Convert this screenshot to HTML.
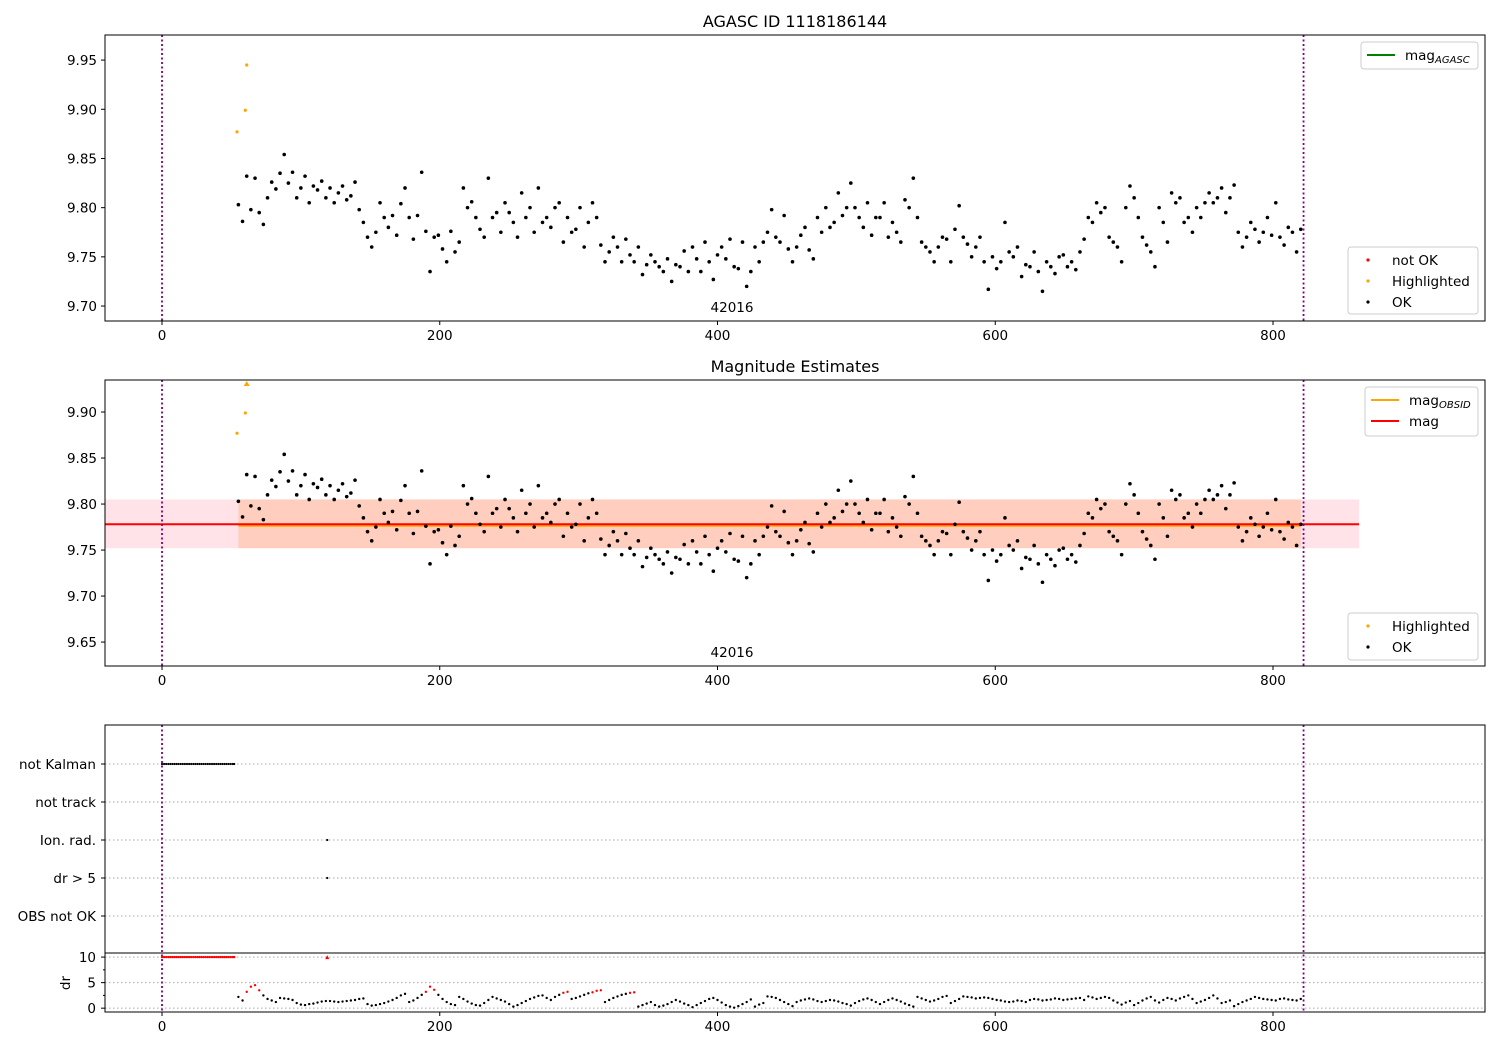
<!DOCTYPE html>
<html><head><meta charset="utf-8"><style>
body{margin:0;background:#fff;}
svg{font-family:"DejaVu Sans","Liberation Sans",sans-serif;}
</style></head><body>
<svg id="c" width="1500" height="1050" viewBox="0 0 1500 1050" xmlns="http://www.w3.org/2000/svg"></svg>
<script>
const mags = [
9.803,9.786,9.832,9.798,9.83,9.795,9.783,9.81,9.826,9.819,
9.835,9.854,9.825,9.836,9.81,9.82,9.832,9.805,9.822,9.818,
9.827,9.81,9.82,9.805,9.815,9.822,9.808,9.812,9.826,9.798,
9.785,9.77,9.76,9.775,9.805,9.79,9.78,9.792,9.772,9.804,
9.82,9.79,9.768,9.792,9.836,9.776,9.735,9.77,9.772,9.758,
9.745,9.776,9.755,9.765,9.82,9.8,9.806,9.79,9.778,9.77,
9.83,9.79,9.795,9.775,9.805,9.795,9.785,9.77,9.815,9.79,
9.8,9.775,9.82,9.785,9.79,9.78,9.8,9.805,9.765,9.79,
9.775,9.778,9.8,9.76,9.785,9.805,9.79,9.762,9.745,9.755,
9.77,9.76,9.745,9.768,9.752,9.745,9.76,9.732,9.742,9.752,
9.745,9.74,9.735,9.748,9.725,9.742,9.74,9.756,9.735,9.76,
9.748,9.735,9.765,9.745,9.727,9.752,9.76,9.748,9.768,9.74,
9.738,9.765,9.72,9.735,9.76,9.745,9.765,9.775,9.798,9.77,
9.765,9.792,9.758,9.745,9.76,9.772,9.78,9.757,9.748,9.79,
9.775,9.8,9.78,9.785,9.815,9.792,9.8,9.825,9.8,9.79,
9.78,9.805,9.772,9.79,9.79,9.805,9.77,9.785,9.775,9.765,
9.808,9.8,9.83,9.79,9.765,9.76,9.755,9.745,9.76,9.77,
9.768,9.745,9.778,9.802,9.77,9.763,9.75,9.76,9.77,9.745,
9.717,9.75,9.738,9.745,9.785,9.755,9.75,9.76,9.73,9.742,
9.74,9.755,9.735,9.715,9.745,9.74,9.733,9.75,9.752,9.74,
9.745,9.737,9.755,9.768,9.79,9.785,9.805,9.795,9.8,9.77,
9.765,9.76,9.745,9.8,9.822,9.81,9.79,9.77,9.762,9.755,
9.74,9.8,9.785,9.765,9.815,9.805,9.81,9.785,9.79,9.775,
9.8,9.79,9.805,9.815,9.805,9.81,9.82,9.795,9.81,9.823,
9.775,9.76,9.77,9.785,9.778,9.765,9.775,9.79,9.772,9.805,
9.77,9.762,9.78,9.775,9.755,9.778];
const drs = [
2.2,1.5,3.2,4.2,4.5,3.5,2.5,1.8,1.5,1.2,
2.0,1.9,1.8,1.6,1.0,0.7,0.6,0.8,0.9,1.1,
1.3,1.4,1.4,1.3,1.2,1.3,1.4,1.5,1.6,1.8,
1.9,0.8,0.5,0.6,0.8,1.0,1.3,1.6,2.0,2.5,
2.8,1.2,1.5,2.0,2.6,3.2,4.2,3.6,2.6,1.8,
1.2,0.8,0.6,2.2,1.8,1.3,0.9,0.6,0.5,1.0,
1.6,2.2,1.9,1.6,1.3,0.8,0.3,0.6,1.0,1.4,
1.8,2.1,2.4,2.5,2.0,1.6,2.2,2.6,3.0,3.2,
1.8,2.0,2.3,2.6,2.9,3.1,3.4,3.5,1.2,1.6,
2.0,2.3,2.6,2.8,3.0,3.1,0.3,0.6,0.9,1.2,
0.6,0.3,0.5,0.8,1.2,1.6,1.3,0.9,0.6,0.2,
0.6,1.0,1.4,1.8,2.0,1.6,1.1,0.6,0.3,0.1,
0.4,0.8,1.2,1.7,0.3,0.7,1.0,2.3,2.2,2.0,
1.6,1.2,0.8,0.4,1.2,1.5,1.7,1.9,1.7,1.4,
1.2,1.4,1.6,1.5,1.3,1.0,0.8,0.5,1.0,1.4,
1.7,1.9,1.6,1.2,0.8,1.2,1.6,1.9,1.6,1.3,
0.9,0.6,0.3,2.2,1.9,1.6,1.3,1.5,1.8,2.2,
2.4,1.0,1.4,1.8,2.3,2.2,2.1,1.9,2.0,2.1,
2.0,1.8,1.6,1.5,1.3,1.2,1.3,1.5,1.4,1.2,
1.6,1.8,1.7,1.5,1.6,1.7,1.9,1.8,1.6,1.7,
1.8,1.9,2.0,1.6,2.3,2.1,1.8,2.0,2.2,2.0,
1.5,1.1,0.7,1.1,1.4,0.6,1.0,1.5,1.9,2.2,
1.5,1.1,1.6,2.0,1.8,1.5,1.9,2.2,2.5,1.8,
1.0,1.3,1.6,2.0,2.5,1.9,1.0,1.2,1.5,0.4,
0.8,1.2,1.5,1.8,2.2,2.0,1.8,1.7,1.6,1.5,
1.8,1.9,1.7,1.6,1.5,1.8];
const startTime = 55, timeStep = 3;
const hiTimes = [54, 60, 61];
const hiMags = [9.877, 9.899, 9.945];
const kalmanTimes = [0,1.5,3,4.5,6,7.5,9,10.5,12,13.5,15,16.5,18,19.5,21,22.5,24,25.5,27,28.5,30,31.5,33,34.5,36,37.5,39,40.5,42,43.5,45,46.5,48,49.5,51,52];
const ionTimes = [119];
const magMean = 9.778, magLow = 9.752, magHigh = 9.805;
const obsStart = 0, obsEnd = 822;
const xTicks = [0,200,400,600,800];
const y1Ticks = [9.70,9.75,9.80,9.85,9.90,9.95];
const y2Ticks = [9.65,9.70,9.75,9.80,9.85,9.90];
const flagLabels = ["not Kalman","not track","Ion. rad.","dr > 5","OBS not OK"];
const drTicks = [0,5,10];

const NS="http://www.w3.org/2000/svg";
const svg=document.getElementById('c');
const FS=13.5;
function el(tag,attrs,parent){const e=document.createElementNS(NS,tag);for(const k in attrs)e.setAttribute(k,attrs[k]);(parent||svg).appendChild(e);return e;}
function txt(s,attrs,parent){const e=el('text',attrs,parent);e.textContent=s;return e;}
const L=105,R=1485;
const X=t=>162+(t)*1111/800;
const times=mags.map((_,i)=>startTime+timeStep*i);
function yS(top,bot,vTop,vBot){return v=>top+(vTop-v)/(vTop-vBot)*(bot-top);}
const Y1=yS(35,321,9.9755,9.6848), Y2=yS(380,666,9.9348,9.624);

function xaxis(bot,name){
  const g=el('g',{});
  xTicks.forEach(t=>{el('line',{x1:X(t),x2:X(t),y1:bot,y2:bot+4,stroke:'#000'},g);txt(String(t),{x:X(t),y:bot+19,'text-anchor':'middle','font-size':FS},g);});
}
function yaxis(ticks,Y,name,fmt){
  const g=el('g',{});
  ticks.forEach(v=>{el('line',{x1:L-4,x2:L,y1:Y(v),y2:Y(v),stroke:'#000'},g);txt(fmt(v),{x:L-8,y:Y(v)+5,'text-anchor':'end','font-size':FS},g);});
}
function frame(top,bot,name){const r=el('rect',{x:L,y:top,width:R-L,height:bot-top,fill:'none',stroke:'#000','stroke-width':1});}
function vlines(top,bot){[obsStart,obsEnd].forEach(t=>{const l=el('line',{x1:X(t),x2:X(t),y1:top,y2:bot,stroke:'purple','stroke-width':1.8,'stroke-dasharray':'2,2.5'});});}
function dot(x,y,c,r,name){const d=el('circle',{cx:x,cy:y,r:r||1.8,fill:c});return d;}
function legend(x,y,w,h,items,name){
  const g=el('g',{});
  el('rect',{x:x,y:y,width:w,height:h,rx:3,fill:'#fff','fill-opacity':0.8,stroke:'#ccc'},g);
  items.forEach((it,i)=>{const yy=y+13+i*21;
    if(it.type==='line')el('line',{x1:x+6,x2:x+34,y1:yy,y2:yy,stroke:it.c,'stroke-width':2},g);
    else el('circle',{cx:x+20,cy:yy,r:1.6,fill:it.c},g);
    const t=txt(it.label,{x:x+44,y:yy+5,'font-size':FS},g);
    if(it.sub){const s=el('tspan',{'font-size':10,'font-style':'italic',dy:3},t);s.textContent=it.sub;}
  });
}

// Panel 1
txt("AGASC ID 1118186144",{x:795,y:27,'text-anchor':'middle','font-size':16});
vlines(35,321);
times.forEach((t,i)=>dot(X(t),Y1(mags[i]),'#000',1.8,'ok-point'));
hiTimes.forEach((t,i)=>dot(X(t),Y1(hiMags[i]),'orange',1.6,'highlighted-point'));
txt("42016",{x:732,y:312,'text-anchor':'middle','font-size':FS});
frame(35,321,'top-axes');xaxis(321,'top-x-axis');yaxis(y1Ticks,Y1,'top-y-axis',v=>v.toFixed(2));
legend(1361,42,117,27,[{type:'line',c:'green',label:'mag',sub:'AGASC'}],'legend-agasc');
legend(1348,247,130,67,[{type:'dot',c:'red',label:'not OK'},{type:'dot',c:'orange',label:'Highlighted'},{type:'dot',c:'#000',label:'OK'}],'legend-status-top');

// Panel 2
txt("Magnitude Estimates",{x:795,y:372,'text-anchor':'middle','font-size':16});
const pb=el('rect',{x:L,y:Y2(magHigh),width:X(862)-L,height:Y2(magLow)-Y2(magHigh),fill:'#ffc0cb','fill-opacity':0.45});
const ob=el('rect',{x:X(times[0]),y:Y2(magHigh),width:X(times[times.length-1])-X(times[0]),height:Y2(magLow)-Y2(magHigh),fill:'#ffa060','fill-opacity':0.3});
el('line',{x1:X(times[0]),x2:X(times[times.length-1]),y1:Y2(magMean)+1.5,y2:Y2(magMean)+1.5,stroke:'orange','stroke-width':2});
el('line',{x1:L,x2:X(862),y1:Y2(magMean),y2:Y2(magMean),stroke:'red','stroke-width':2});
vlines(380,666);
times.forEach((t,i)=>dot(X(t),Y2(mags[i]),'#000',1.8,'ok-point'));
hiTimes.forEach((t,i)=>{const v=hiMags[i];if(v>9.934){const x=X(t),y=382;const p=el('polygon',{points:`${x-3},${y+4} ${x+3},${y+4} ${x},${y-1}`,fill:'orange'});}else dot(X(t),Y2(v),'orange',1.6,'highlighted-point');});
txt("42016",{x:732,y:657,'text-anchor':'middle','font-size':FS});
frame(380,666,'middle-axes');xaxis(666,'middle-x-axis');yaxis(y2Ticks,Y2,'middle-y-axis',v=>v.toFixed(2));
legend(1365,387,113,49,[{type:'line',c:'orange',label:'mag',sub:'OBSID'},{type:'line',c:'red',label:'mag'}],'legend-mag');
legend(1348,613,130,47,[{type:'dot',c:'orange',label:'Highlighted'},{type:'dot',c:'#000',label:'OK'}],'legend-status-mid');

// Panel 3 flags
const rowY=i=>764+i*38;
flagLabels.forEach((s,i)=>{
  el('line',{x1:L,x2:R,y1:rowY(i),y2:rowY(i),stroke:'#aaa','stroke-dasharray':'1.5,2.5'});
  el('line',{x1:L-4,x2:L,y1:rowY(i),y2:rowY(i),stroke:'#000'});
  txt(s,{x:L-9,y:rowY(i)+5,'text-anchor':'end','font-size':FS});
});
kalmanTimes.forEach(t=>dot(X(t),rowY(0),'#000',1.1,'not-kalman-point'));
ionTimes.forEach(t=>{dot(X(t),rowY(2),'#000',1.1,'ion-rad-point');dot(X(t),rowY(3),'#000',1.1,'dr-gt-5-point');});
// dr panel
const YD=yS(953,1012,10.8,-0.75);
drTicks.forEach(v=>{el('line',{x1:L,x2:R,y1:YD(v),y2:YD(v),stroke:'#aaa','stroke-dasharray':'1.5,2.5'});el('line',{x1:L-4,x2:L,y1:YD(v),y2:YD(v),stroke:'#000'});txt(String(v),{x:L-9,y:YD(v)+5,'text-anchor':'end','font-size':FS});});
[2.5,7.5].forEach(v=>el('line',{x1:L-2,x2:L,y1:YD(v),y2:YD(v),stroke:'#000'}));
txt("dr",{x:0,y:0,'text-anchor':'middle','font-size':FS,transform:'translate(70,983) rotate(-90)'});
vlines(725,1012);
kalmanTimes.forEach(t=>dot(X(t),YD(10),'red',1.2,'dr-clipped-point'));
ionTimes.forEach(t=>{const x=X(t),y=YD(10);el('polygon',{points:`${x-2},${y+2} ${x+2},${y+2} ${x},${y-2}`,fill:'red'});});
times.forEach((t,i)=>dot(X(t),YD(drs[i]),drs[i]>=3?'red':'#000',1.2,'dr-point'));
el('line',{x1:L,x2:R,y1:953,y2:953,stroke:'#000'});
frame(725,1012,'bottom-axes');xaxis(1012,'bottom-x-axis');
</script>
</body></html>
